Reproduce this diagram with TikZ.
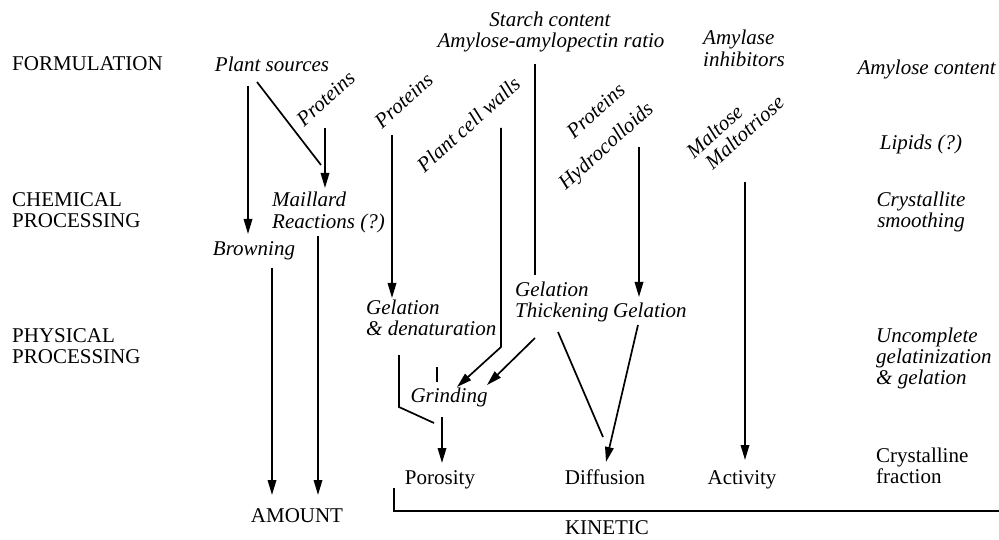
\documentclass[tikz,border=0pt]{standalone}
\usepackage{fontspec}
\setmainfont{Liberation Serif}
\usetikzlibrary{arrows.meta}
\begin{document}
\begin{tikzpicture}[x=1pt,y=-1pt,
  lbl/.style={inner sep=0pt, font=\fontsize{21}{21}\selectfont, text height=14pt, text depth=4.5pt},
  itl/.style={lbl, font=\fontsize{21}{21}\selectfont\itshape},
  rot/.style={itl, rotate=42},
  ln/.style={line width=1.7pt},
  arr/.style={ln, -{Triangle[length=15pt,width=8.5pt]}}]
\useasboundingbox (0,0) rectangle (999,540);

% left column
\node[lbl, anchor=west] (form) at (12,66) {FORMULATION};
\node[lbl, anchor=west] (chem1) at (12,202) {CHEMICAL};
\node[lbl, anchor=west] (chem2) at (12,223) {PROCESSING};
\node[lbl, anchor=west] (phys1) at (12,338) {PHYSICAL};
\node[lbl, anchor=west] (phys2) at (12,359) {PROCESSING};

% browning / maillard branch
\node[itl] (plant) at (272,67) {Plant sources};
\node[rot] (prot1) at (327,100) {Proteins};
\node[itl, anchor=west] (mail1) at (272,202) {Maillard};
\node[itl, anchor=west] (mail2) at (272,224) {Reactions (?)};
\node[itl] (brown) at (254,251) {Browning};
\node[lbl] (amount) at (297,518) {AMOUNT};

% middle top
\node[rot] (prot2) at (405,102) {Proteins};
\node[rot] (pcw) at (470,126) {Plant cell walls};
\node[itl] (starch1) at (550,22) {Starch content};
\node[itl] (starch2) at (551,43) {Amylose-amylopectin ratio};
\node[rot] (prot3) at (597,112) {Proteins};
\node[rot] (hydro) at (607,147) {Hydrocolloids};
\node[itl, anchor=west] (amyl1) at (703,40) {Amylase};
\node[itl, anchor=west] (amyl2) at (703,62) {inhibitors};
\node[rot] (malt1) at (716,133) {Maltose};
\node[rot] (malt2) at (746,134) {Maltotriose};

% right column
\node[itl, anchor=east] (amc) at (996,70) {Amylose content};
\node[itl] (lip) at (921,145) {Lipids (?)};
\node[itl] (cry1) at (921,202) {Crystallite};
\node[itl] (cry2) at (921,223) {smoothing};
\node[itl, anchor=west] (unc1) at (876,338) {Uncomplete};
\node[itl, anchor=west] (unc2) at (876,359) {gelatinization};
\node[itl, anchor=west] (unc3) at (876,380) {\& gelation};
\node[lbl, anchor=west] (cf1) at (876,458) {Crystalline};
\node[lbl, anchor=west] (cf2) at (876,479) {fraction};

% physical row
\node[itl, anchor=west] (gd1) at (366,310) {Gelation};
\node[itl, anchor=west] (gd2) at (366,331) {\& denaturation};
\node[itl, anchor=west] (gt1) at (515,292) {Gelation};
\node[itl, anchor=west] (gt2) at (515,313) {Thickening};
\node[itl, anchor=west] (gr) at (613,313) {Gelation};
\node[itl] (grind) at (449,398) {Grinding};

% bottom row
\node[lbl] (poro) at (440,480) {Porosity};
\node[lbl] (diff) at (605,480) {Diffusion};
\node[lbl] (act) at (742,480) {Activity};
\node[lbl] (kin) at (607,530) {KINETIC};

% connector end points
\coordinate (pA) at (248,86);   \coordinate (bT) at (248,234);
\coordinate (pB) at (257,82);   \coordinate (mD) at (321,165);
\coordinate (p1B) at (325,128); \coordinate (mT) at (325,188);
\coordinate (bB) at (272,268);  \coordinate (aA) at (272,495);
\coordinate (mB) at (318,236);  \coordinate (aB) at (318,495);
\coordinate (p2B) at (392,135); \coordinate (gdT) at (392,298);
\coordinate (pcB) at (501,128); \coordinate (pcK) at (501,347); \coordinate (grA) at (457,387);
\coordinate (sB) at (535,64);   \coordinate (sE) at (535,275);
\coordinate (hB) at (639,147);  \coordinate (grT) at (639,297);
\coordinate (mlB) at (745,182); \coordinate (acT) at (745,460);
\coordinate (tA) at (535,338);  \coordinate (grB) at (487,385);
\coordinate (tB) at (558,332);  \coordinate (dA) at (603,437);
\coordinate (gR) at (638,325);  \coordinate (dT) at (606,462);
\coordinate (gdB) at (399,355); \coordinate (gdK) at (399,407); \coordinate (gdE) at (434,423);
\coordinate (tk1) at (437,367); \coordinate (tk2) at (437,382);
\coordinate (giB) at (442,417); \coordinate (poT) at (442,463);
\coordinate (k1) at (394,488);  \coordinate (k2) at (394,511); \coordinate (k3) at (999,511);

% connectors
\draw[arr] (pA) -- (bT);
\draw[ln] (pB) -- (mD);
\draw[arr] (p1B) -- (mT);
\draw[arr] (bB) -- (aA);
\draw[arr] (mB) -- (aB);
\draw[arr] (p2B) -- (gdT);
\draw[arr] (pcB) -- (pcK) -- (grA);
\draw[ln] (sB) -- (sE);
\draw[arr] (hB) -- (grT);
\draw[arr] (mlB) -- (acT);
\draw[arr] (tA) -- (grB);
\draw[ln] (tB) -- (dA);
\draw[arr] (gR) -- (dT);
\draw[ln] (gdB) -- (gdK) -- (gdE);
\draw[ln] (tk1) -- (tk2);
\draw[arr] (giB) -- (poT);
\draw[line width=1.4pt] (k1) -- (k2) -- (k3);
\end{tikzpicture}
\end{document}
